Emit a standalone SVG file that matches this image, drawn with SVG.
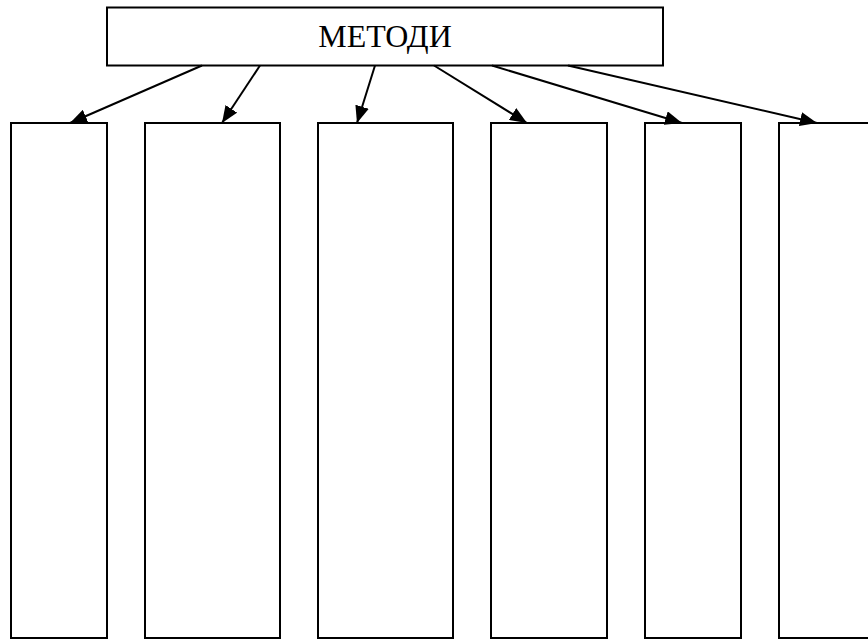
<svg xmlns="http://www.w3.org/2000/svg" width="868" height="642" viewBox="0 0 868 642">
<style>
.box{fill:#fff;stroke:#000;stroke-width:2}
.lbl{font-family:"Liberation Serif","Times New Roman",serif;font-size:32px;fill:#000}
.conn{stroke:#000;stroke-width:2;fill:none}
</style>
<defs>
<marker id="ah" markerUnits="userSpaceOnUse" markerWidth="18" markerHeight="14" viewBox="0 0 18 14" refX="17" refY="7" orient="auto">
<path d="M0,0 L17,7 L0,14 Z" fill="#000"/>
</marker>
</defs>
<rect width="868" height="642" fill="#fff"/>
<g id="root">
<rect class="box" x="107" y="7.5" width="556" height="58"/>
<text class="lbl" x="385" y="47" text-anchor="middle">МЕТОДИ</text>
</g>
<g id="m1"><rect class="box" x="11" y="123" width="96" height="515"/></g>
<g id="m2"><rect class="box" x="145" y="123" width="135" height="515"/></g>
<g id="m3"><rect class="box" x="318" y="123" width="135" height="515"/></g>
<g id="m4"><rect class="box" x="491" y="123" width="116" height="515"/></g>
<g id="m5"><rect class="box" x="645" y="123" width="96" height="515"/></g>
<g id="m6"><rect class="box" x="779" y="123" width="110" height="515"/></g>
<g id="connectors">
<line class="conn" x1="202" y1="65.5" x2="70" y2="123" marker-end="url(#ah)"/>
<line class="conn" x1="260" y1="65.5" x2="222" y2="123" marker-end="url(#ah)"/>
<line class="conn" x1="375" y1="65.5" x2="357" y2="123" marker-end="url(#ah)"/>
<line class="conn" x1="434" y1="65.5" x2="527" y2="123" marker-end="url(#ah)"/>
<line class="conn" x1="492" y1="65.5" x2="682" y2="123" marker-end="url(#ah)"/>
<line class="conn" x1="568" y1="65.5" x2="817" y2="123" marker-end="url(#ah)"/>
</g>
</svg>
